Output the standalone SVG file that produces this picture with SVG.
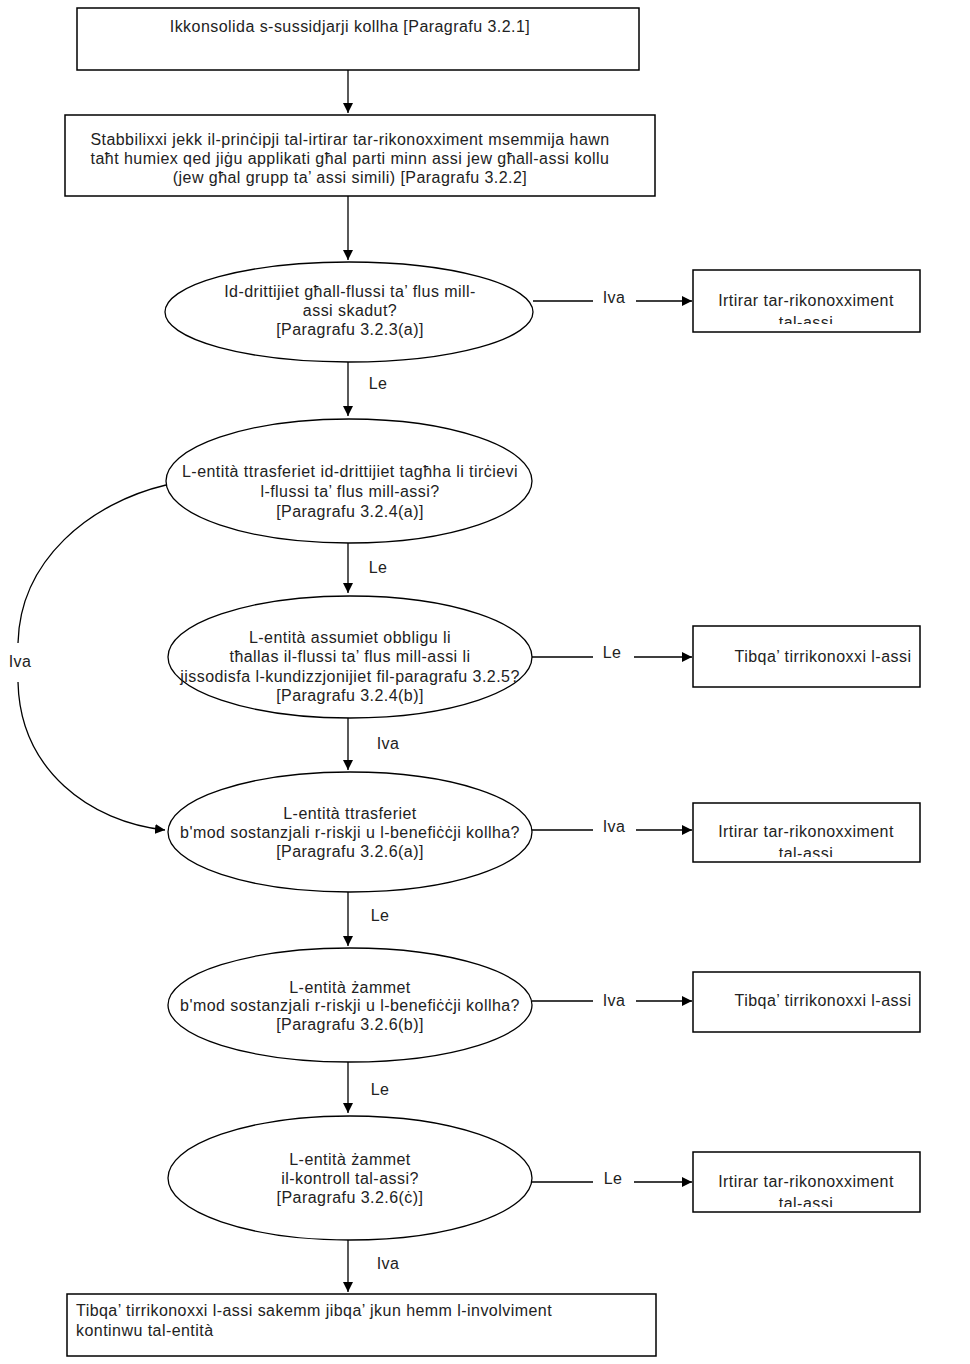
<svg xmlns="http://www.w3.org/2000/svg" width="970" height="1364" viewBox="0 0 970 1364">
<style>
.box{fill:#fff;stroke:#000;stroke-width:1.5}
.ell{fill:#fff;stroke:#000;stroke-width:1.3}
.t{font-family:"Liberation Sans",Arial,sans-serif;font-size:16px;letter-spacing:0.45px;fill:#222;text-anchor:middle}
.tl{font-family:"Liberation Sans",Arial,sans-serif;font-size:16px;letter-spacing:0.45px;fill:#222}
.ln{fill:none;stroke:#000;stroke-width:1.3}
</style>
<defs>
<marker id="ah" viewBox="0 0 10 10" refX="10" refY="5" markerWidth="10" markerHeight="10" markerUnits="userSpaceOnUse" orient="auto">
<path d="M0,0 L10,5 L0,10 Z" fill="#000"/>
</marker>
<clipPath id="c1"><rect x="693" y="270" width="228" height="54"/></clipPath>
<clipPath id="c3"><rect x="693" y="803" width="228" height="54"/></clipPath>
<clipPath id="c5"><rect x="693" y="1152" width="228" height="55"/></clipPath>
</defs>
<rect width="970" height="1364" fill="#fff"/>

<g id="connectors">
<path class="ln" d="M348,70 V113" marker-end="url(#ah)"/>
<path class="ln" d="M348,196 V260" marker-end="url(#ah)"/>
<path class="ln" d="M348,362 V416" marker-end="url(#ah)"/>
<path class="ln" d="M348,543 V593" marker-end="url(#ah)"/>
<path class="ln" d="M348,718 V770" marker-end="url(#ah)"/>
<path class="ln" d="M348,892 V946" marker-end="url(#ah)"/>
<path class="ln" d="M348,1062 V1113" marker-end="url(#ah)"/>
<path class="ln" d="M348,1240 V1292" marker-end="url(#ah)"/>
<path class="ln" d="M533,301 H593 M636,301 H692" marker-end="url(#ah)"/>
<path class="ln" d="M532,657 H593 M634,657 H692" marker-end="url(#ah)"/>
<path class="ln" d="M532,830 H593 M636,830 H692" marker-end="url(#ah)"/>
<path class="ln" d="M532,1001 H593 M636,1001 H692" marker-end="url(#ah)"/>
<path class="ln" d="M532,1182 H593 M634,1182 H692" marker-end="url(#ah)"/>
<path class="ln" d="M166,485 C90,503 20,560 18,643"/>
<path class="ln" d="M18,682 C20,770 90,822 165,830" marker-end="url(#ah)"/>
<text class="t" x="378" y="389">Le</text>
<text class="t" x="378" y="573">Le</text>
<text class="t" x="388" y="749">Iva</text>
<text class="t" x="380" y="921">Le</text>
<text class="t" x="380" y="1095">Le</text>
<text class="t" x="388" y="1269">Iva</text>
<text class="t" x="614" y="303">Iva</text>
<text class="t" x="612" y="658">Le</text>
<text class="t" x="614" y="832">Iva</text>
<text class="t" x="614" y="1006">Iva</text>
<text class="t" x="613" y="1184">Le</text>
<text class="t" x="20" y="667">Iva</text>
</g>

<g id="n1">
<rect class="box" x="77" y="8" width="562" height="62"/>
<text class="t" x="350" y="32">Ikkonsolida s-sussidjarji kollha [Paragrafu 3.2.1]</text>
</g>
<g id="n2">
<rect class="box" x="65" y="115" width="590" height="81"/>
<text class="t" x="350" y="145">Stabbilixxi jekk il-prinċipji tal-irtirar tar-rikonoxximent msemmija hawn</text>
<text class="t" x="350" y="164">taħt humiex qed jiġu applikati għal parti minn assi jew għall-assi kollu</text>
<text class="t" x="350" y="183">(jew għal grupp ta’ assi simili) [Paragrafu 3.2.2]</text>
</g>
<g id="d1">
<ellipse class="ell" cx="349" cy="312" rx="184" ry="50"/>
<text class="t" x="350" y="297">Id-drittijiet għall-flussi ta’ flus mill-</text>
<text class="t" x="350" y="316">assi skadut?</text>
<text class="t" x="350" y="335">[Paragrafu 3.2.3(a)]</text>
</g>
<g id="r1">
<rect class="box" x="693" y="270" width="227" height="62"/>
<text class="t" x="806" y="306">Irtirar tar-rikonoxximent</text>
<text class="t" x="806" y="328" clip-path="url(#c1)">tal-assi</text>
</g>
<g id="d2">
<ellipse class="ell" cx="349" cy="481" rx="183" ry="62"/>
<text class="t" x="350" y="477">L-entità ttrasferiet id-drittijiet tagħha li tirċievi</text>
<text class="t" x="350" y="497">l-flussi ta’ flus mill-assi?</text>
<text class="t" x="350" y="517">[Paragrafu 3.2.4(a)]</text>
</g>
<g id="d3">
<ellipse class="ell" cx="350" cy="657" rx="182" ry="61"/>
<text class="t" x="350" y="643">L-entità assumiet obbligu li</text>
<text class="t" x="350" y="662">tħallas il-flussi ta’ flus mill-assi li</text>
<text class="t" x="350" y="682">jissodisfa l-kundizzjonijiet fil-paragrafu 3.2.5?</text>
<text class="t" x="350" y="701">[Paragrafu 3.2.4(b)]</text>
</g>
<g id="r2">
<rect class="box" x="693" y="626" width="227" height="61"/>
<text class="t" x="823" y="662">Tibqa’ tirrikonoxxi l-assi</text>
</g>
<g id="d4">
<ellipse class="ell" cx="350" cy="832" rx="182" ry="60"/>
<text class="t" x="350" y="819">L-entità ttrasferiet</text>
<text class="t" x="350" y="838">b'mod sostanzjali r-riskji u l-benefiċċji kollha?</text>
<text class="t" x="350" y="857">[Paragrafu 3.2.6(a)]</text>
</g>
<g id="r3">
<rect class="box" x="693" y="803" width="227" height="59"/>
<text class="t" x="806" y="837">Irtirar tar-rikonoxximent</text>
<text class="t" x="806" y="859" clip-path="url(#c3)">tal-assi</text>
</g>
<g id="d5">
<ellipse class="ell" cx="350" cy="1005" rx="182" ry="57"/>
<text class="t" x="350" y="993">L-entità żammet</text>
<text class="t" x="350" y="1011">b'mod sostanzjali r-riskji u l-benefiċċji kollha?</text>
<text class="t" x="350" y="1030">[Paragrafu 3.2.6(b)]</text>
</g>
<g id="r4">
<rect class="box" x="693" y="972" width="227" height="60"/>
<text class="t" x="823" y="1006">Tibqa’ tirrikonoxxi l-assi</text>
</g>
<g id="d6">
<ellipse class="ell" cx="350" cy="1178" rx="182" ry="62"/>
<text class="t" x="350" y="1165">L-entità żammet</text>
<text class="t" x="350" y="1184">il-kontroll tal-assi?</text>
<text class="t" x="350" y="1203">[Paragrafu 3.2.6(ċ)]</text>
</g>
<g id="r5">
<rect class="box" x="693" y="1152" width="227" height="60"/>
<text class="t" x="806" y="1187">Irtirar tar-rikonoxximent</text>
<text class="t" x="806" y="1209" clip-path="url(#c5)">tal-assi</text>
</g>
<g id="n3">
<rect class="box" x="67" y="1294" width="589" height="62"/>
<text class="tl" x="76" y="1316">Tibqa’ tirrikonoxxi l-assi sakemm jibqa’ jkun hemm l-involviment</text>
<text class="tl" x="76" y="1336">kontinwu tal-entità</text>
</g>
</svg>
